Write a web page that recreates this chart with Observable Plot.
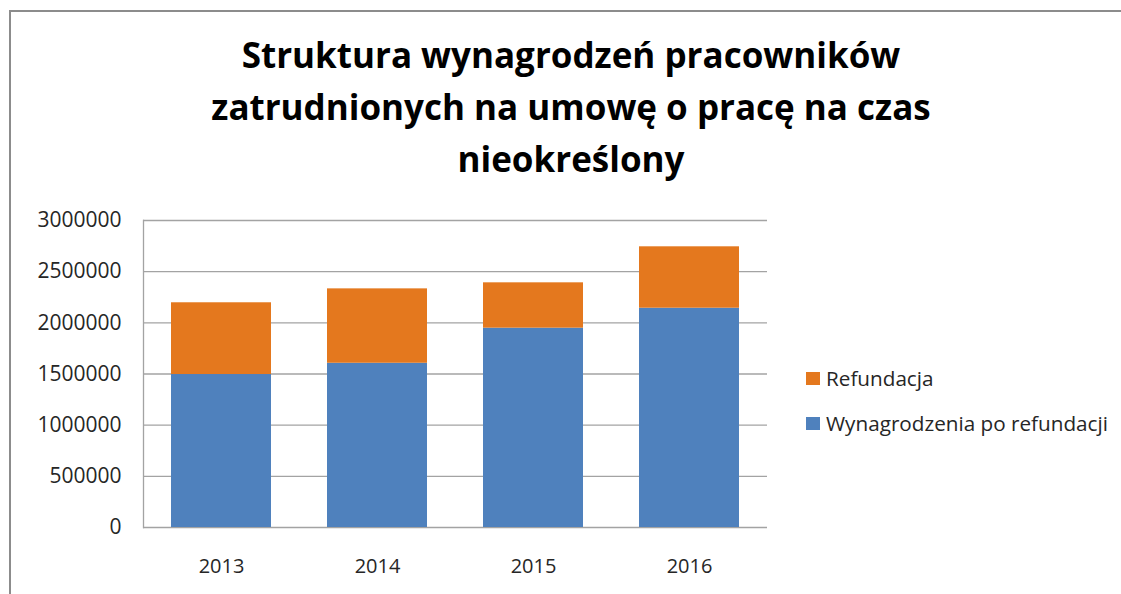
<!DOCTYPE html>
<html>
<head>
<meta charset="utf-8">
<script src="https://cdn.jsdelivr.net/npm/d3@7"></script>
<script src="https://cdn.jsdelivr.net/npm/@observablehq/plot@0.6"></script>
<style>
  html, body { margin: 0; padding: 0; background: #fff; }
  #wrap { position: relative; width: 1121px; height: 594px; overflow: hidden; background: #fff; font-family: "Open Sans", sans-serif; }
  #frame { position: absolute; left: 9px; top: 10px; width: 1200px; height: 700px; border-left: 2px solid #8c8c8c; border-top: 2px solid #8c8c8c; }
  #title { position: absolute; left: 0; top: 29px; width: 1142px; text-align: center; font-family: "Open Sans", sans-serif; font-weight: bold; font-size: 35px; line-height: 52px; color: #000; }
  #chart { position: absolute; left: 0; top: 200px; }
  #legend { position: absolute; left: 806px; top: 366px; font-family: "Open Sans", sans-serif; font-size: 20.7px; color: #262626; }
  .item { display: flex; align-items: center; height: 24px; margin-bottom: 21px; }
  .sw { width: 14px; height: 13px; margin-right: 6px; }
</style>
</head>
<body>
<div id="wrap">
  <div id="frame"></div>
  <div id="title"></div>
  <div id="chart"></div>
  <div id="legend"></div>
</div>
<script>
const titleLines = ["Struktura wynagrodzeń pracowników", "zatrudnionych na umowę o pracę na czas", "nieokreślony"];
const years = ["2013", "2014", "2015", "2016"];
const seriesNames = ["Wynagrodzenia po refundacji", "Refundacja"];
const wynagrodzenia = [1495000, 1605000, 1948000, 2143000];
const refundacja = [701000, 727000, 443000, 600000];
const seriesColors = ["#4f81bd", "#e4781e"];
const yTicks = [0, 500000, 1000000, 1500000, 2000000, 2500000, 3000000];
const legendOrder = ["Refundacja", "Wynagrodzenia po refundacji"];

document.getElementById("title").innerHTML = titleLines.join("<br>");

const rows = [];
years.forEach((y, i) => rows.push({year: y, series: seriesNames[0], value: wynagrodzenia[i]}));
years.forEach((y, i) => rows.push({year: y, series: seriesNames[1], value: refundacja[i]}));

const chart = Plot.plot({
  width: 1121,
  height: 394,
  marginTop: 20,
  marginBottom: 67,
  marginLeft: 143,
  marginRight: 354,
  style: {fontFamily: "Open Sans, sans-serif", fontSize: "20px", color: "#262626", background: "transparent"},
  x: {domain: years, paddingInner: 0.356, paddingOuter: 0.178, label: null},
  y: {domain: [0, 3000000], label: null},
  color: {domain: seriesNames, range: seriesColors},
  marks: [
    Plot.ruleY(yTicks, {stroke: "#a3a3a3", strokeWidth: 1.3}),
    Plot.frame({anchor: "left", stroke: "#a3a3a3", strokeWidth: 1.3}),
    Plot.barY(rows, {x: "year", y: "value", fill: "series"}),
    Plot.axisY(yTicks, {tickSize: 0, tickPadding: 22, tickFormat: d => String(d), label: null, fill: "#262626", fontSize: 21}),
    Plot.axisX({tickSize: 0, tickPadding: 31, label: null, fill: "#262626", fontSize: 20})
  ]
});
document.getElementById("chart").appendChild(chart);

const legend = document.getElementById("legend");
legendOrder.forEach(name => {
  const it = document.createElement("div");
  it.className = "item";
  const sw = document.createElement("div");
  sw.className = "sw";
  sw.style.background = seriesColors[seriesNames.indexOf(name)];
  const tx = document.createElement("span");
  tx.textContent = name;
  it.appendChild(sw); it.appendChild(tx);
  legend.appendChild(it);
});
</script>
</body>
</html>
